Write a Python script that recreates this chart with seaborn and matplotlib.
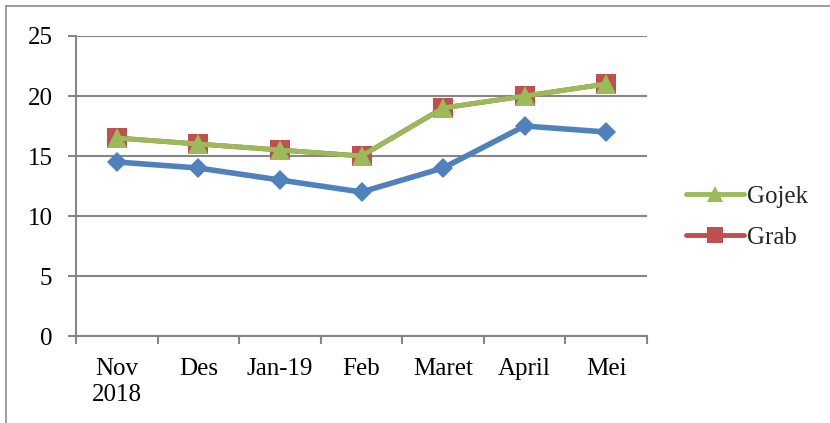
"""
Line chart: Gojek vs Grab (Nov 2018 - Mei)
"""
import numpy as np
import pandas as pd
import matplotlib
matplotlib.use("Agg")
import matplotlib.pyplot as plt
import seaborn as sns
from matplotlib.lines import Line2D

# Data
months = ["Nov\n2018", "Des", "Jan-19", "Feb", "Maret", "April", "Mei"]
blue_values = [14.5, 14, 13, 12, 14, 17.5, 17]
grab_values = [16.5, 16, 15.5, 15, 19, 20, 21]
gojek_values = [16.5, 16, 15.5, 15, 19, 20, 21]
y_ticks = [0, 5, 10, 15, 20, 25]

BLUE = "#4F81BD"
RED = "#C0504D"
GREEN = "#9BBB59"
GRID = "#868686"

sns.set_theme(style="white")
plt.rcParams['font.family'] = ['Liberation Serif', 'DejaVu Serif']
plt.rcParams['font.size'] = 18

W, H = 830, 423
fig = plt.figure(figsize=(W / 100, H / 100), dpi=100)
ax = fig.add_axes([76 / W, 1 - 336 / H, (647 - 76) / W, (336 - 36) / H])

df_blue = pd.DataFrame({"month": months, "value": blue_values})
df_grab = pd.DataFrame({"month": months, "value": grab_values})
df_gojek = pd.DataFrame({"month": months, "value": gojek_values})

sns.lineplot(data=df_blue, x="month", y="value", ax=ax, sort=False, color=BLUE,
             linewidth=4.0, marker="D", markersize=10.5, markeredgewidth=0)
sns.lineplot(data=df_grab, x="month", y="value", ax=ax, sort=False, color=RED,
             linewidth=3.5, marker="s", markersize=14.5, markeredgewidth=0, label="Grab")
sns.lineplot(data=df_gojek, x="month", y="value", ax=ax, sort=False, color=GREEN,
             linewidth=3.5, marker="^", markersize=15, markeredgewidth=0, label="Gojek")

# Axes styling (Excel look)
ax.set_xlim(-0.5, len(months) - 0.5)
ax.set_ylim(0, 25)
ax.set_yticks(y_ticks)
ax.set_xlabel("")
ax.set_ylabel("")
ax.yaxis.grid(True, color=GRID, linewidth=1.5)
ax.set_axisbelow(True)
for side in ["top", "right"]:
    ax.spines[side].set_visible(False)
for side in ["left", "bottom"]:
    ax.spines[side].set_color(GRID)
    ax.spines[side].set_linewidth(1.5)

ax.tick_params(axis="y", which="major", direction="out", length=6, width=1.5,
               color=GRID, pad=11, left=True, labelsize=18, labelcolor="black")
ax.tick_params(axis="x", which="major", length=0, pad=16, labelsize=18,
               labelcolor="black")
ax.set_xticks(np.arange(-0.5, len(months), 1), minor=True)
ax.tick_params(axis="x", which="minor", direction="out", length=6, width=1.5,
               color=GRID, bottom=True)

# Legend: only Gojek and Grab
handles, labels = ax.get_legend_handles_labels()
order = [labels.index("Gojek"), labels.index("Grab")]
ax.legend([handles[i] for i in order], [labels[i] for i in order],
          loc="center left", bbox_to_anchor=(686 / W, 1 - 217 / H),
          bbox_transform=fig.transFigure, frameon=False, borderpad=0,
          borderaxespad=0, handlelength=2.3, handletextpad=0.15,
          labelspacing=0.75, fontsize=18, markerscale=0.75)

# Outer frame (cropped at right and bottom)
fig.add_artist(Line2D([5.5 / W, 5.5 / W], [0, 1 - 6.5 / H], color="#8C8C8C",
                      linewidth=1.2, transform=fig.transFigure))
fig.add_artist(Line2D([5.5 / W, 1], [1 - 6.5 / H, 1 - 6.5 / H], color="#8C8C8C",
                      linewidth=1.2, transform=fig.transFigure))

fig.savefig("out.png", dpi=100)
plt.close(fig)
